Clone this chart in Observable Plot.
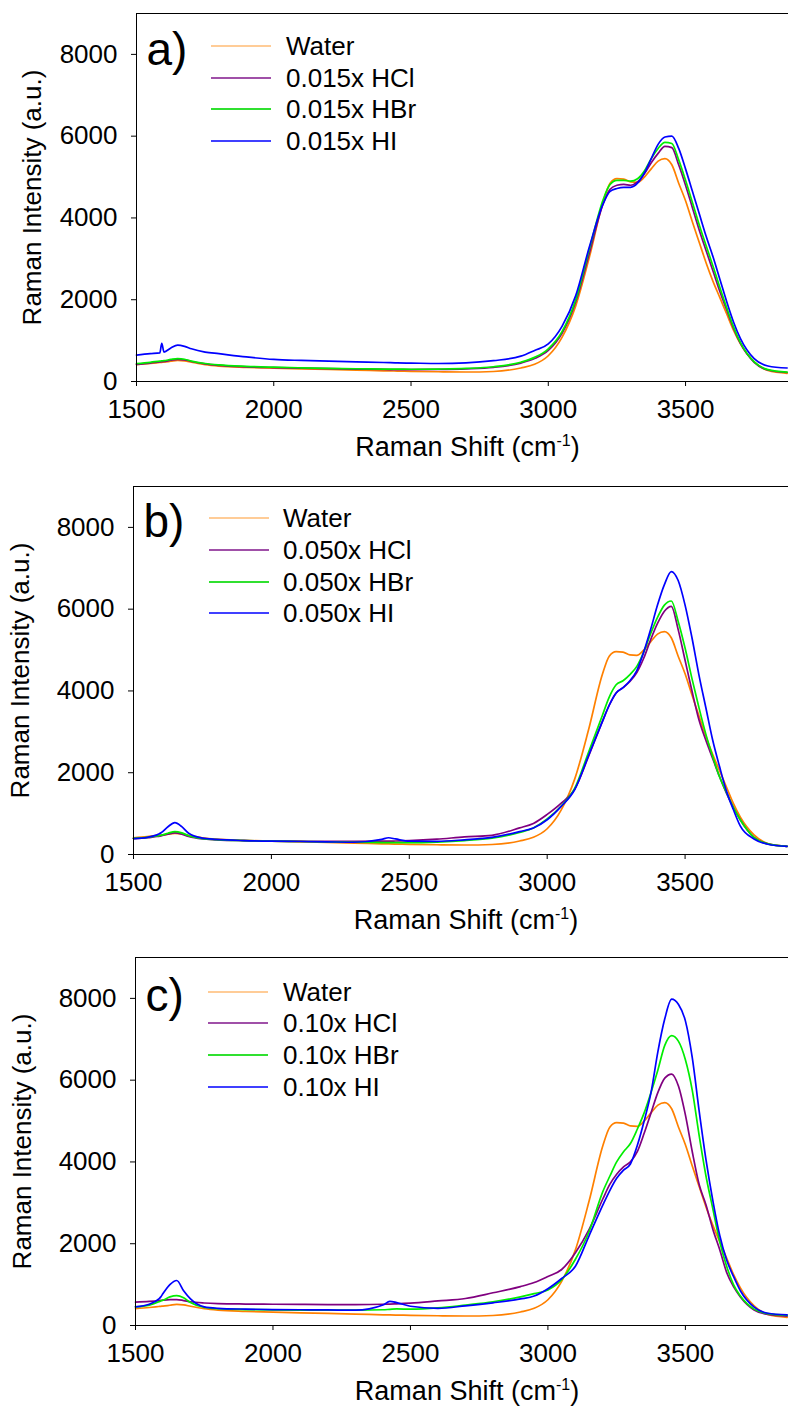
<!DOCTYPE html>
<html><head><meta charset="utf-8">
<script src="https://cdn.jsdelivr.net/npm/d3@7"></script>
<script src="https://cdn.jsdelivr.net/npm/@observablehq/plot@0.6"></script>
<style>
html,body{margin:0;padding:0;background:#fff;}
#wrap{position:relative;width:788px;height:1408px;overflow:hidden;background:#fff;}
.panel{position:absolute;left:0;}
</style></head><body><div id="wrap"></div>
<script>
// Raman shift grid (cm-1)
const shift = [1500,1550,1585,1592,1600,1625,1650,1675,1700,1750,1800,1900,2000,2100,2200,2300,2400,2425,2450,2500,2600,2700,2800,2900,2950,3000,3050,3100,3150,3200,3225,3250,3275,3300,3325,3350,3375,3400,3425,3450,3475,3500,3525,3550,3575,3600,3625,3650,3675,3700,3750,3800,3870];

// Water (same reference spectrum in all panels)
const water = [410,440,465,470,475,495,515,505,470,410,375,345,325,310,295,280,262,258,255,248,238,232,245,330,420,630,1080,1850,3050,4400,4850,4960,4950,4880,4870,5000,5200,5390,5450,5300,4850,4420,3900,3400,2900,2450,2050,1650,1250,920,480,270,200];

// Panel a) 0.015x
const hclA = [420,450,480,485,490,520,540,530,490,430,395,360,340,325,315,305,295,292,290,290,295,310,345,450,560,760,1180,1950,3150,4350,4700,4800,4820,4800,4880,5080,5350,5580,5750,5720,5300,4800,4250,3700,3200,2700,2200,1750,1300,930,470,280,220];
const hbrA = [440,470,500,505,510,540,560,545,500,440,405,370,350,335,322,312,305,303,302,300,305,320,360,470,590,800,1220,2000,3250,4450,4820,4920,4920,4900,4960,5150,5450,5700,5850,5820,5420,4920,4380,3830,3320,2820,2300,1800,1330,950,480,290,230];
const hiA  = [645,680,700,935,720,820,890,860,800,720,680,600,540,515,497,480,465,460,455,450,440,455,510,620,760,920,1350,2100,3300,4350,4650,4720,4750,4750,4850,5100,5450,5800,5980,6000,5700,5200,4650,4100,3550,3050,2500,1950,1450,1050,560,380,330];

// Panel b) 0.050x
const hclB = [390,410,440,445,455,500,527,500,440,380,360,340,330,325,320,320,325,328,330,340,375,430,470,650,760,980,1250,1600,2400,3250,3650,3950,4080,4230,4450,4800,5250,5650,5950,6070,5500,4750,4000,3300,2800,2350,1900,1500,1150,850,420,260,200];
const hbrB = [395,420,455,460,470,520,560,530,460,390,365,340,325,318,310,300,292,290,290,290,305,340,400,540,650,870,1180,1620,2500,3400,3850,4150,4250,4400,4600,4950,5400,5800,6100,6200,5700,5050,4300,3600,2950,2400,1900,1520,1150,850,420,260,200];
const hiB  = [390,420,480,500,530,680,780,680,520,400,370,340,325,318,310,300,370,410,380,325,320,360,420,560,650,850,1170,1590,2420,3250,3650,3950,4080,4250,4500,4950,5500,6100,6600,6920,6700,6100,5300,4400,3600,2800,2150,1550,1100,700,380,250,200];

// Panel c) 0.10x
const hclC = [570,590,610,615,620,632,634,610,580,550,535,525,520,515,512,512,520,525,530,545,600,660,800,950,1050,1200,1370,1780,2350,3100,3450,3700,3880,4000,4250,4700,5200,5700,6050,6150,5850,5150,4250,3450,2950,2350,1850,1300,950,700,380,270,230];
const hbrC = [455,500,580,600,620,700,732,680,560,440,410,390,380,375,374,374,385,395,405,400,430,500,580,700,780,870,1122,1620,2300,3280,3650,4000,4250,4450,4800,5200,5700,6250,6850,7090,6950,6500,5750,4650,3650,2850,2050,1450,1000,720,400,290,250];
const hiC  = [455,520,650,700,780,1000,1100,850,650,455,420,400,390,385,380,374,500,590,560,470,420,480,555,650,720,900,1150,1450,2200,2950,3300,3600,3800,3950,4400,5000,5700,6700,7500,7980,7850,7450,6550,5250,4050,3050,2200,1600,1200,850,450,300,260];

const labelsA = ["Water","0.015x HCl","0.015x HBr","0.015x HI"];
const labelsB = ["Water","0.050x HCl","0.050x HBr","0.050x HI"];
const labelsC = ["Water","0.10x HCl","0.10x HBr","0.10x HI"];
const seriesColors = ["#ff8000","#800080","#00ee00","#0000ff"];
const legendColors = ["#ff9a30","#a050a8","#30e030","#4040ff"];
const xTicks = [1500,2000,2500,3000,3500];
const yTicks = [0,2000,4000,6000,8000];

const FONT = "'Liberation Sans', Arial, Helvetica, sans-serif";

const panels = [
  {offset:0,   height:470, top:13, axis:381, left:136, tag:"a)", tagDy:51, yTitleDx:-104, labels:labelsA, series:[water,hclA,hbrA,hiA], legRows:[33,65,96,128], legDx:75, txtDx:150},
  {offset:470, height:470, top:16, axis:384, left:133, tag:"b)", tagDy:50, yTitleDx:-113, labels:labelsB, series:[water,hclB,hbrB,hiB], legRows:[32,64,96,127], legDx:76, txtDx:150},
  {offset:940, height:468, top:17, axis:385, left:135, tag:"c)", tagDy:53, yTitleDx:-113, labels:labelsC, series:[water,hclC,hbrC,hiC], legRows:[35,66,98,130], legDx:73, txtDx:148}
];

const wrap = document.getElementById("wrap");

panels.forEach(cfg => {
  const rows = [];
  cfg.series.forEach((arr, k) => arr.forEach((v, i) => rows.push({shift: shift[i], intensity: v, series: cfg.labels[k]})));
  const plot = Plot.plot({
    width: 788,
    height: cfg.height,
    marginLeft: cfg.left,
    marginRight: 0,
    marginTop: cfg.top,
    marginBottom: cfg.height - cfg.axis,
    style: {fontFamily: FONT, fontSize: "26px", background: "white", color: "black", overflow: "visible"},
    x: {domain: [1500, 3875], ticks: xTicks, tickSize: 5, tickPadding: 13, tickFormat: d => String(d), label: null},
    y: {domain: [0, 9000], ticks: yTicks, tickSize: 5, tickPadding: 14, tickFormat: d => String(d), label: null},
    color: {domain: cfg.labels, range: seriesColors},
    marks: [
      Plot.lineY(rows, {x: "shift", y: "intensity", z: "series", stroke: "series", strokeWidth: 1.7, curve: "monotone-x"}),
      Plot.ruleY([9000], {stroke: "black"}),
      Plot.ruleY([0], {stroke: "black"}),
      Plot.ruleX([1500], {stroke: "black"}),
      Plot.text([cfg.tag], {text: d => d, frameAnchor: "top-left", dx: 10, dy: cfg.tagDy, lineAnchor: "bottom", textAnchor: "start", fontSize: 46}),
      Plot.text(["Raman Intensity (a.u.)"], {text: d => d, frameAnchor: "left", rotate: -90, dx: cfg.yTitleDx, textAnchor: "middle", lineAnchor: "middle", fontSize: 26}),
      Plot.text(["Raman Shift (cm-1)"], {text: d => d, frameAnchor: "bottom", dx: 5, dy: 66, textAnchor: "middle", lineAnchor: "middle", fontSize: 27})
    ]
  });
  const svg = d3.select(plot);
  // superscript for cm-1
  svg.selectAll("text").filter(function(){ return this.textContent === "Raman Shift (cm-1)"; }).each(function(){
    const t = d3.select(this);
    t.text(null);
    t.append("tspan").text("Raman Shift (cm");
    t.append("tspan").attr("font-size", 16).attr("dy", -10).text("-1");
    t.append("tspan").attr("dy", 10).text(")");
  });
  // legend
  const g = svg.append("g").attr("font-family", FONT).attr("font-size", 26).attr("text-anchor", "start");
  cfg.labels.forEach((lab, k) => {
    const y = cfg.top + cfg.legRows[k];
    const x0 = cfg.left + cfg.legDx;
    g.append("line").attr("x1", x0).attr("x2", x0 + 60).attr("y1", y).attr("y2", y)
      .attr("stroke", legendColors[k]).attr("stroke-width", k === 0 ? 1.2 : 1.8);
    g.append("text").attr("x", cfg.left + cfg.txtDx).attr("y", y + 9.3).attr("fill", "black").attr("text-anchor", "start").text(lab);
  });
  const div = document.createElement("div");
  div.className = "panel";
  div.style.top = cfg.offset + "px";
  div.appendChild(plot);
  wrap.appendChild(div);
});
</script>
</body></html>
